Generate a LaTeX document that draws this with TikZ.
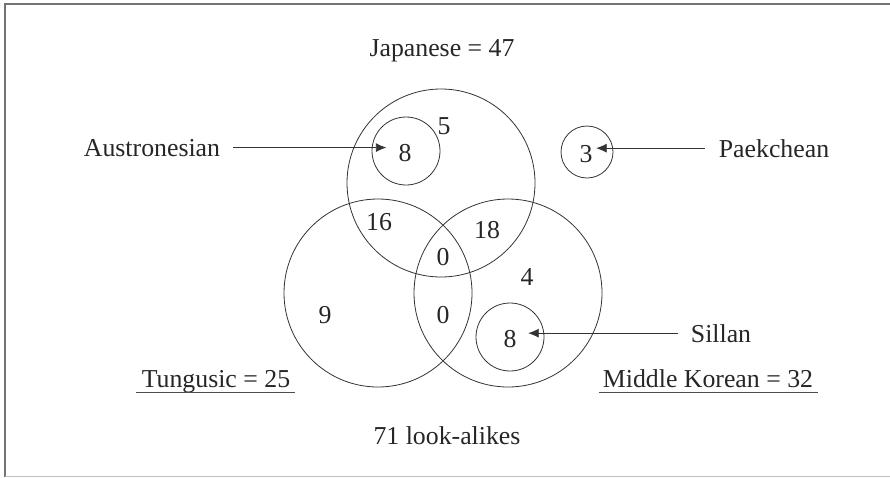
\documentclass[tikz,border=0pt]{standalone}
\usepackage{fontspec}
\setmainfont{Liberation Serif}
\usetikzlibrary{arrows.meta}
\begin{document}
\begin{tikzpicture}[x=1pt,y=-1pt,
  ring/.style={circle,draw=black!80,line width=0.8pt,inner sep=0pt},
  lbl/.style={anchor=base,inner sep=0pt,font=\fontsize{25.8}{30}\selectfont,text=black!85},
  arr/.style={line width=0.8pt,draw=black!80,-{Latex[length=10.5pt,width=9pt]}},
  uline/.style={line width=1pt,draw=black!70}]
  \useasboundingbox (0,0) rectangle (890,477);
  % page edges: top and left rules, faint bottom rule
  \draw[line width=2pt,draw=black!55] (5,477) -- (5,4) -- (890,4);
  \draw[line width=1pt,draw=black!25] (5,476) -- (890,476);

  % the three main circles
  \node[ring,minimum size=188pt] (jp) at (441,183) {};
  \node[ring,minimum size=188pt] (tg) at (378,293) {};
  \node[ring,minimum size=188pt] (mk) at (508,293) {};
  % small circles
  \node[ring,minimum size=68pt] (au) at (406,151) {};
  \node[ring,minimum size=52pt] (pk) at (587,152) {};
  \node[ring,minimum size=68pt] (sl) at (510,337) {};

  % region counts
  \node[lbl] (n5)  at (444,134) {5};
  \node[lbl] (n8a) at (405,161) {8};
  \node[lbl] (n3)  at (586,162) {3};
  \node[lbl] (n16) at (379,230) {16};
  \node[lbl] (n18) at (487,238) {18};
  \node[lbl] (n0a) at (443,265) {0};
  \node[lbl] (n4)  at (527,285) {4};
  \node[lbl] (n9)  at (325,323) {9};
  \node[lbl] (n0b) at (443,323) {0};
  \node[lbl] (n8s) at (510,347) {8};

  % labels
  \node[lbl] (jpl) at (442,56) {Japanese = 47};
  \node[lbl] (aul) at (152,156) {Austronesian};
  \node[lbl] (pkl) at (774,157) {Paekchean};
  \node[lbl] (sll) at (721,342) {Sillan};
  \node[lbl] (tgl) at (216,387) {Tungusic = 25};
  \node[lbl] (mkl) at (708,387) {Middle Korean = 32};
  \node[lbl] (tot) at (447,444) {71 look-alikes};

  % underlines
  \draw[uline] (136,392) -- (295,392);
  \draw[uline] (599,392) -- (818,392);

  % pointers
  \draw[arr] ([xshift=13pt]aul.east) -- ([xshift=-12pt]n8a.west |- aul.east);
  \draw[arr] ([xshift=-14pt]pkl.west) -- ([xshift=3.5pt]n3.east |- pkl.west);
  \draw[arr] ([xshift=-13pt]sll.west) -- ([xshift=11.5pt]n8s.east |- sll.west);
\end{tikzpicture}
\end{document}
